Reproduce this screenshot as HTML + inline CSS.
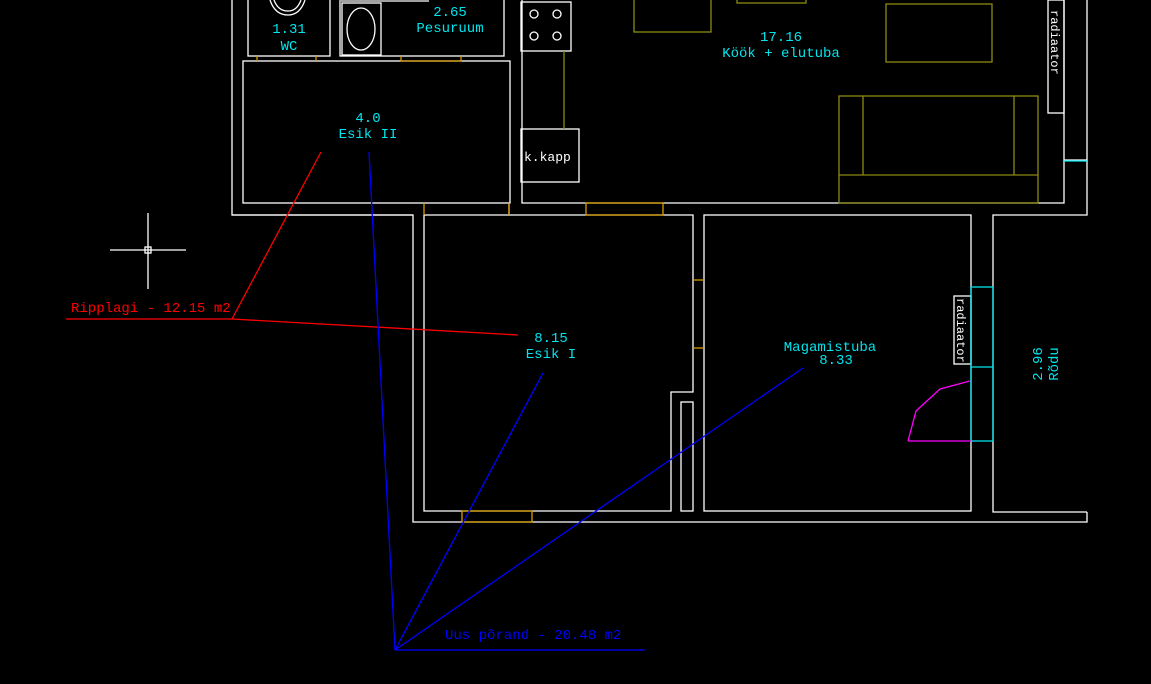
<!DOCTYPE html>
<html><head><meta charset="utf-8"><style>
html,body{margin:0;padding:0;background:#000;}
svg{display:block}
text{font-family:"Liberation Mono",monospace;font-size:14px;}
</style></head><body>
<svg width="1151" height="684" viewBox="0 0 1151 684" xmlns="http://www.w3.org/2000/svg">
<g fill="none" stroke="#fff" stroke-width="1.3">
<!-- outer walls -->
<polyline points="232,0 232,215 413,215 413,522 1087,522 1087,512"/>
<polyline points="1087,0 1087,215 993,215 993,512 1087,512"/>
<polyline points="1064,0 1064,160"/>
<line x1="1064" y1="160" x2="1087" y2="160" stroke="#fff"/>
<polyline points="1064,160 1064,203 522,203 522,0"/>
<rect x="1048" y="0" width="16" height="113"/>
<!-- WC / Pesuruum -->
<rect x="248" y="-2" width="82" height="58"/>
<rect x="340" y="-2" width="164" height="58"/>
<rect x="342" y="3" width="39" height="52"/>
<line x1="341" y1="1" x2="429" y2="1"/>
<ellipse cx="361" cy="29" rx="14" ry="21"/>
<path d="M270,0 Q275,15 288,15 Q300,15 305,0"/>
<path d="M274,0 Q278,11 288,11 Q297,11 301,0"/>
<!-- Esik II -->
<rect x="243" y="61" width="267" height="142"/>
<polyline points="232,215 413,215"/>
<polyline points="509,203 509,215"/>
<line x1="509" y1="215" x2="1064" y2="215" stroke="none"/>
<!-- stove -->
<rect x="521" y="2" width="50" height="49"/>
<circle cx="534" cy="14" r="4"/><circle cx="557" cy="14" r="4"/>
<circle cx="534" cy="36" r="4"/><circle cx="557" cy="36" r="4"/>
<rect x="521" y="129" width="58" height="53"/>
<!-- Esik I -->
<polyline points="424,215 693,215 693,392 671,392 671,511 424,511 424,215"/>
<rect x="681" y="402" width="12" height="109"/>
<!-- Magamistuba -->
<rect x="704" y="215" width="267" height="296"/>
<rect x="954" y="296" width="17" height="68"/>
<!-- crosshair -->
<line x1="110" y1="250" x2="186" y2="250"/>
<line x1="148" y1="213" x2="148" y2="289"/>
<rect x="145" y="247" width="6" height="6"/>
</g>
<!-- orange door marks -->
<g stroke="#d89a00" stroke-width="1.3" fill="none">
<line x1="257" y1="56" x2="257" y2="61"/><line x1="316" y1="56" x2="316" y2="61"/>
<polyline points="401,56 401,61 461,61 461,56"/>
<line x1="424" y1="203" x2="424" y2="215"/>
<line x1="509" y1="203" x2="509" y2="215"/>
<rect x="586" y="203" width="77" height="12"/>
<rect x="462" y="511" width="70" height="11"/>
<line x1="693" y1="280" x2="704" y2="280"/>
<line x1="693" y1="348" x2="704" y2="348"/>
</g>
<!-- olive furniture -->
<g stroke="#8a8a10" stroke-width="1.3" fill="none">
<line x1="564" y1="51" x2="564" y2="129"/>
<rect x="634" y="-2" width="77" height="34"/>
<rect x="737" y="-2" width="69" height="5"/>
<rect x="886" y="4" width="106" height="58"/>
<rect x="839" y="96" width="199" height="107"/>
<line x1="863" y1="96" x2="863" y2="175"/>
<line x1="1014" y1="96" x2="1014" y2="175"/>
<line x1="839" y1="175" x2="1038" y2="175"/>
</g>
<!-- cyan window -->
<g stroke="#00e5ee" stroke-width="1.3" fill="none">
<rect x="971" y="287" width="22" height="154"/>
<line x1="971" y1="367" x2="993" y2="367"/>
<line x1="1064" y1="161" x2="1087" y2="161"/>
</g>
<!-- magenta door swing -->
<polyline points="908,441 916,411 940,389 970,381" stroke="#ff00ff" stroke-width="1.3" fill="none"/>
<line x1="908" y1="441" x2="971" y2="441" stroke="#ff00ff" stroke-width="1.3"/>
<!-- red leader -->
<g stroke="#ff0000" stroke-width="1.3" fill="none">
<line x1="66" y1="319" x2="232" y2="319"/>
<line x1="232" y1="319" x2="321" y2="152"/>
<line x1="232" y1="319" x2="518" y2="335"/>
</g>
<text x="71" y="312" fill="#ff0000">Ripplagi - 12.15 m2</text>
<!-- blue leader -->
<g stroke="#0000ff" stroke-width="1.3" fill="none">
<line x1="395" y1="650" x2="369" y2="152"/>
<line x1="395" y1="650" x2="543" y2="373"/>
<line x1="395" y1="650" x2="803" y2="368"/>
<line x1="395" y1="650" x2="645" y2="650"/>
</g>
<text x="445" y="639" fill="#0000ff">Uus põrand - 20.48 m2</text>
<!-- labels -->
<g fill="#00e5ee" text-anchor="middle">
<text x="289" y="33">1.31</text><text x="289" y="50">WC</text>
<text x="450" y="16">2.65</text><text x="450" y="32">Pesuruum</text>
<text x="368" y="122">4.0</text><text x="368" y="138">Esik II</text>
<text x="781" y="41">17.16</text><text x="781" y="57">Köök + elutuba</text>
<text x="551" y="342">8.15</text><text x="551" y="358">Esik I</text>
<text x="830" y="351">Magamistuba</text><text x="836" y="364">8.33</text>
<text transform="translate(1042,364) rotate(-90)" y="0">2.96</text>
<text transform="translate(1058,364) rotate(-90)" y="0">Rõdu</text>
</g>
<g fill="#fff" font-size="13">
<text x="524" y="161" style="font-size:13px">k.kapp</text>
<text transform="translate(1051,10) rotate(90)" style="font-size:12px">radiaator</text>
<text transform="translate(957,298) rotate(90)" style="font-size:12px">radiaator</text>
</g>
</svg>
</body></html>
